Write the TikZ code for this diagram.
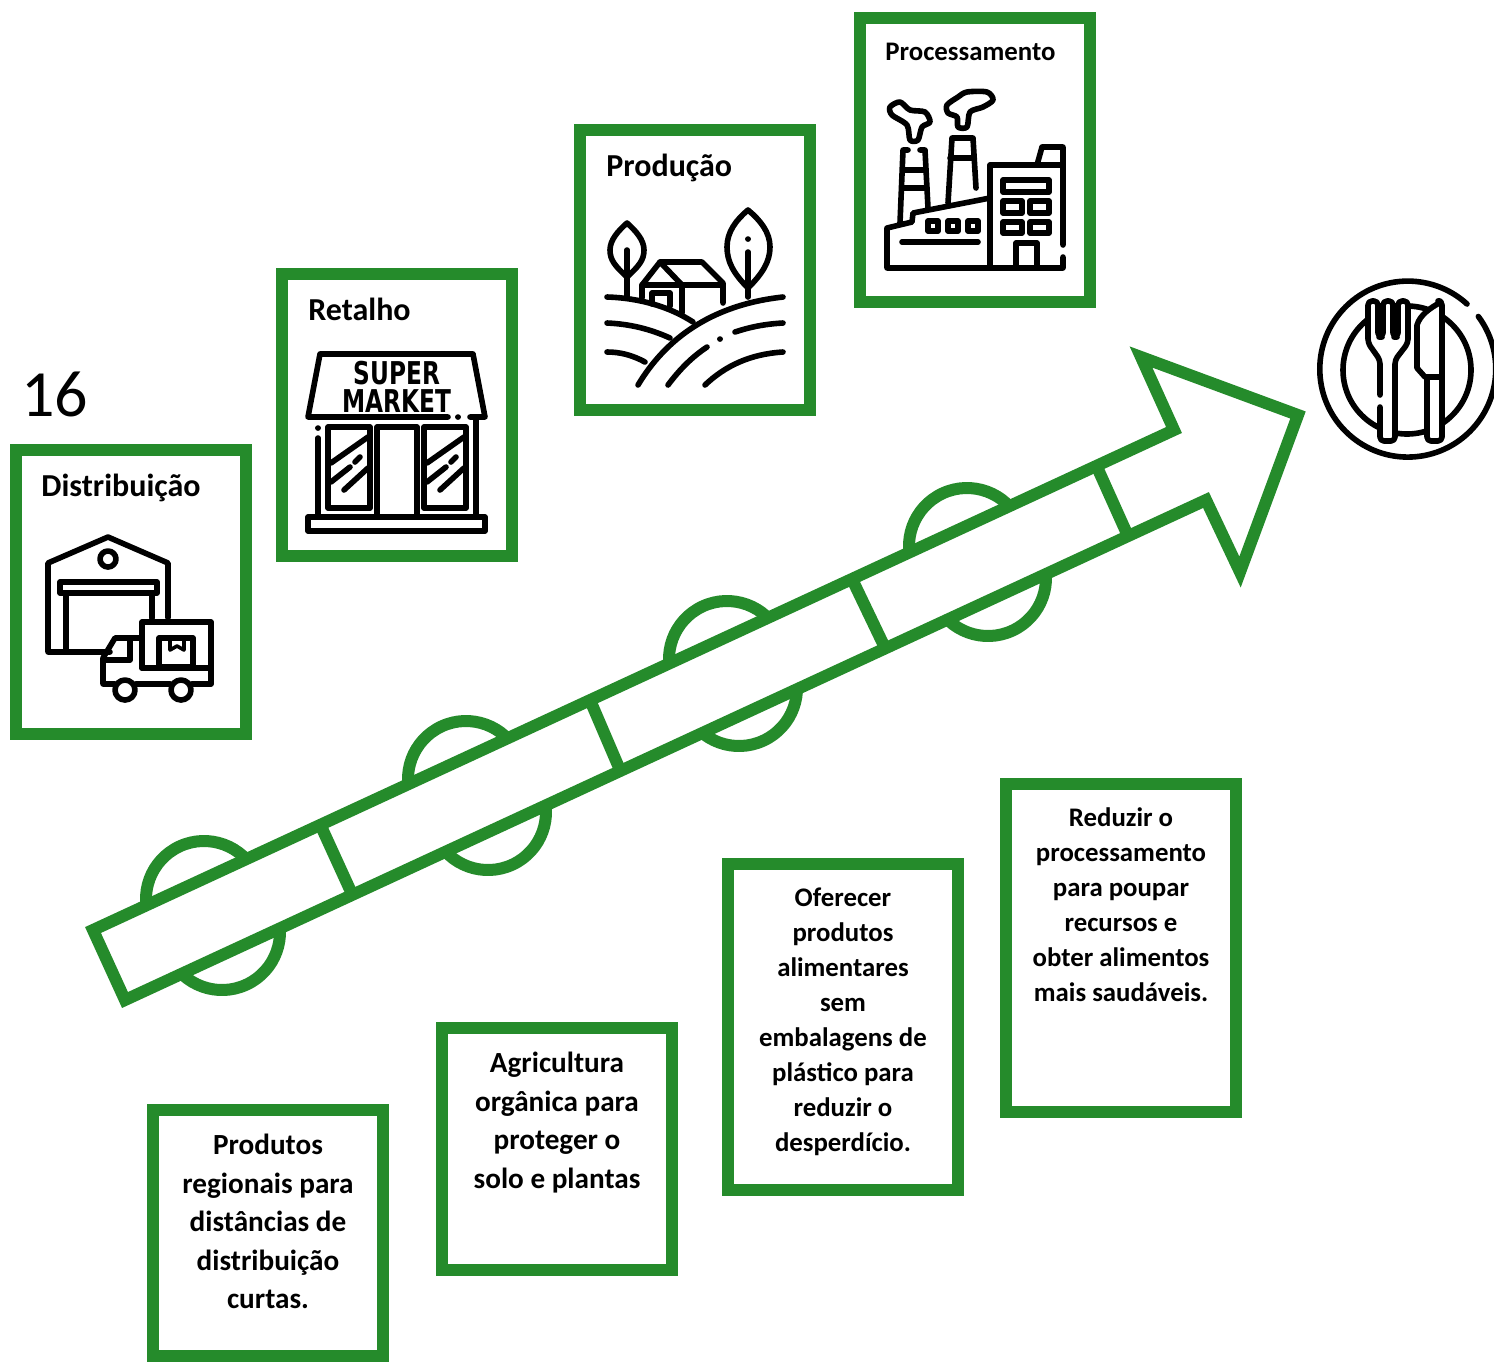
\documentclass[tikz,border=0pt]{standalone}
\usepackage{fontspec}
\setmainfont{Carlito}
\newfontfamily\signfont{DejaVu Sans}
\definecolor{boxgreen}{HTML}{258B2B}
\tikzset{
  greenbox/.style={draw=boxgreen,line width=6pt,fill=white,rectangle,minimum width=115pt,inner sep=0pt},
  titletext/.style={font=\fontsize{16}{18}\selectfont\bfseries,anchor=base west,inner sep=0pt},
  bodytext/.style={font=\fontsize{14.6}{19.25}\selectfont\bfseries,align=center,anchor=north,inner sep=0pt},
  smalltext/.style={font=\fontsize{13.4}{17.5}\selectfont\bfseries,align=center,anchor=north,inner sep=0pt},
  bump/.style={draw=boxgreen,line width=6pt},
  icon/.style={draw=black,line width=2.8pt,line cap=round,line join=round},
  signtext/.style={font=\signfont\fontsize{15.7}{14}\selectfont\bfseries,align=center,inner sep=0pt}
}
\begin{document}
\begin{tikzpicture}[x=0.5pt,y=-0.5pt]
  \useasboundingbox (0,0) rectangle (1494,1362);
  % bumps behind the arrow
  \draw[bump] (204,899) ++(25:29pt) arc[start angle=25,end angle=205,radius=29pt];
  \draw[bump] (222,932) ++(205:29pt) arc[start angle=205,end angle=385,radius=29pt];
  \draw[bump] (466,779) ++(25:29pt) arc[start angle=25,end angle=205,radius=29pt];
  \draw[bump] (488,812) ++(205:29pt) arc[start angle=205,end angle=385,radius=29pt];
  \draw[bump] (727,659) ++(25:29pt) arc[start angle=25,end angle=205,radius=29pt];
  \draw[bump] (739,688) ++(205:29pt) arc[start angle=205,end angle=385,radius=29pt];
  \draw[bump] (967,546) ++(25:29pt) arc[start angle=25,end angle=205,radius=29pt];
  \draw[bump] (988,578) ++(205:29pt) arc[start angle=205,end angle=385,radius=29pt];
  % arrow
  \draw[draw=boxgreen,fill=white,line width=6pt,miter limit=10] (93,930) -- (1174,430) -- (1141,357) -- (1298,415) -- (1240,572) -- (1206,500) -- (125,1000) -- cycle;
  \draw[draw=boxgreen,line width=6pt] (320,824) -- (352,894);
  \draw[draw=boxgreen,line width=6pt] (590,700) -- (620,770);
  \draw[draw=boxgreen,line width=6pt] (852,579) -- (887,652);
  \draw[draw=boxgreen,line width=6pt] (1097,467) -- (1128,536);
  % boxes on top
  \node[greenbox,minimum height=142pt] (distbox) at (131,592) {};
  \node[greenbox,minimum height=141pt] (retbox) at (397,415) {};
  \node[greenbox,minimum height=140pt] (prodbox) at (695,270) {};
  \node[greenbox,minimum height=142pt] (procbox) at (975,160) {};
  \node[titletext] (disttitle) at (41,496) {Distribuição};
  \node[titletext] (rettitle) at (308,320) {Retalho};
  \node[titletext] (prodtitle) at (606,176) {Produção};
  \node[titletext,font=\fontsize{13.4}{16}\selectfont\bfseries] (proctitle) at (885,60) {Processamento};
  \node[anchor=base west,inner sep=0pt,font=\fontsize{33}{36}\selectfont] (pagenum) at (21,416) {16};
  % boxes below
  \node[greenbox,minimum height=123pt] (regbox) at (268,1233) {};
  \node[greenbox,minimum height=121pt] (agribox) at (557,1149) {};
  \node[greenbox,minimum height=163pt] (embbox) at (843,1027) {};
  \node[greenbox,minimum height=164pt] (redbox) at (1121,948) {};
  \node[bodytext] (regtext) at (268,1134) {Produtos\\regionais para\\distâncias de\\distribuição\\curtas.};
  \node[bodytext] (agritext) at (557,1052) {Agricultura\\orgânica para\\proteger o\\solo e plantas};
  \node[smalltext] (embtext) at (843,887) {Oferecer\\produtos\\alimentares\\sem\\embalagens de\\plástico para\\reduzir o\\desperdício.};
  \node[smalltext] (redtext) at (1121,807) {Reduzir o\\processamento\\para poupar\\recursos e\\obter alimentos\\mais saudáveis.};
  % warehouse and truck
  \draw[icon] (110,652) -- (48,652) -- (48,563) -- (108,537) -- (168,563) -- (168,618);
  \draw[icon] (108,559) circle (4pt);
  \draw[icon] (60,582) rectangle (157,593);
  \draw[icon] (66,593) -- (66,652);
  \draw[icon] (152,593) -- (152,618);
  \draw[icon] (142,668) -- (142,622) -- (211,622) -- (211,684) -- (192,684);
  \draw[icon] (142,668) -- (211,668);
  \draw[icon] (159,638) rectangle (193,667);
  \draw[icon,line width=1.8pt] (170,638) -- (170,650) -- (177,646) -- (184,650) -- (184,638);
  \draw[icon] (142,638) -- (115,638) -- (103,658) -- (103,684) -- (115,684);
  \draw[icon] (103,660) -- (130,660) -- (130,640);
  \draw[icon] (136,684) -- (170,684);
  \draw[icon] (125,690) circle (5pt);
  \draw[icon] (181,690) circle (5pt);
  % supermarket
  \draw[icon] (448,417) -- (308,417) -- (320,354) -- (473,354) -- (485,417) -- (470,417);
  \draw[icon] (458,417) -- (458,417.1);
  \node[signtext,xscale=0.74] (signtext) at (397,386.5) {SUPER\\MARKET};
  \draw[icon] (308,517) rectangle (485,531);
  \draw[icon] (318,438) -- (318,517);
  \draw[icon] (318,428) -- (318,428.1);
  \draw[icon] (476,418) -- (476,517);
  \draw[icon] (328,427) rectangle (370,508);
  \draw[icon] (424,427) rectangle (466,508);
  \draw[icon] (377,517) -- (377,427) -- (417,427) -- (417,517);
  \draw[icon] (331,463) -- (368,437);
  \draw[icon] (331,482) -- (350,467);
  \draw[icon] (355,462) -- (360,457);
  \draw[icon] (344,490) -- (368,468);
  \draw[icon] (427,463) -- (464,437);
  \draw[icon] (427,482) -- (446,467);
  \draw[icon] (451,462) -- (456,457);
  \draw[icon] (440,490) -- (464,468);
  % farm
  \draw[icon] (627,277) .. controls (615,266) and (610,260) .. (610,250) .. controls (610,240) and (618,231) .. (627,223) .. controls (636,231) and (644,240) .. (644,250) .. controls (644,260) and (639,266) .. (627,277) -- cycle;
  \draw[icon] (627,250) -- (627,297);
  \draw[icon] (748,288) .. controls (734,274) and (727,262) .. (727,247) .. controls (727,232) and (736,220) .. (748,210) .. controls (760,220) and (770,232) .. (770,247) .. controls (770,262) and (762,274) .. (748,288) -- cycle;
  \draw[icon] (748,252) -- (748,297);
  \draw[icon] (748,239) -- (748,239.1);
  \draw[icon] (642,298) -- (642,285) -- (660,262) -- (702,262) -- (723,283) -- (723,303);
  \draw[icon] (660,262) -- (682,285) -- (682,313);
  \draw[icon] (642,285) -- (682,285);
  \draw[icon] (682,285) -- (723,285);
  \draw[icon] (652,304) -- (652,293) -- (670,293) -- (670,306);
  \draw[icon] (607,297) .. controls (640,298) and (670,307) .. (693,322);
  \draw[icon] (638,385) .. controls (665,340) and (710,305) .. (783,297);
  \draw[icon] (607,323) .. controls (630,324) and (650,329) .. (670,338);
  \draw[icon] (607,352) .. controls (620,352) and (632,355) .. (645,362);
  \draw[icon] (735,332) .. controls (750,327) and (765,324) .. (783,323);
  \draw[icon] (720,339) -- (720,339.1);
  \draw[icon] (668,385) .. controls (680,369) and (692,357) .. (707,347);
  \draw[icon] (705,385) .. controls (725,366) and (750,354) .. (783,352);
  % factory
  \draw[icon] (1063,257) -- (1063,268) -- (887,268) -- (887,228) -- (912,222) -- (913,213) -- (990,198);
  \draw[icon] (1063,245) -- (1063,147) -- (1042,147) -- (1037,165);
  \draw[icon] (990,268) -- (990,165) -- (1063,165);
  \draw[icon] (900,223) -- (903,150) -- (908,150);
  \draw[icon] (920,150) -- (925,150) -- (928,208);
  \draw[icon] (903,170) -- (926,170);
  \draw[icon] (902,188) -- (927,188);
  \draw[icon] (948,203) -- (952,138) -- (973,138) -- (976,188);
  \draw[icon] (950,158) -- (974,158);
  \draw[icon] plot[smooth cycle] coordinates {(890,107) (900,102) (910,110) (925,112) (930,122) (922,127) (918,140) (910,140) (907,125) (892,115)};
  \draw[icon] plot[smooth cycle] coordinates {(947,105) (958,97) (967,92) (987,92) (993,100) (983,107) (970,112) (967,127) (958,127) (957,117) (948,113)};
  \draw[icon] (928,221) rectangle (938,231);
  \draw[icon] (948,221) rectangle (958,231);
  \draw[icon] (968,221) rectangle (978,231);
  \draw[icon] (902,242) -- (978,242);
  \draw[icon] (1003,180) rectangle (1049,192);
  \draw[icon] (1003,201) rectangle (1022,213);
  \draw[icon] (1030,201) rectangle (1049,213);
  \draw[icon] (1003,222) rectangle (1022,233);
  \draw[icon] (1030,222) rectangle (1049,233);
  \draw[icon] (1016,268) -- (1016,243) -- (1037,243) -- (1037,268);
  % plate
  \draw[icon] (1467,304) arc[start angle=47.7,end angle=396.7,radius=44pt];
  \draw[icon] (1407,370) circle (32pt);
  \fill[white] (1380,440) -- (1380,360) -- (1368,343) -- (1368,302) -- (1408,302) -- (1408,343) -- (1395,360) -- (1395,440) -- cycle;
  \fill[white] (1427,440) -- (1427,377) -- (1417,368) -- (1417,323) .. controls (1420,315) and (1430,308) .. (1441,302) -- (1442,440) -- cycle;
  \draw[icon,rounded corners=2pt] (1380,395) -- (1380,360) -- (1368,343) -- (1368,301) -- (1378,301) -- (1378,337) -- (1383,337) -- (1383,301) -- (1393,301) -- (1393,337) -- (1398,337) -- (1398,301) -- (1408,301) -- (1408,343) -- (1395,360) -- (1395,441) -- (1380,441) -- (1380,407);
  \draw[icon,rounded corners=2pt] (1427,377) -- (1427,441) -- (1442,441) -- (1442,301) -- (1440,301);
  \draw[icon] (1441,302) .. controls (1430,308) and (1420,315) .. (1417,325) -- (1417,368) -- (1425,377) -- (1442,377);
\end{tikzpicture}
\end{document}
